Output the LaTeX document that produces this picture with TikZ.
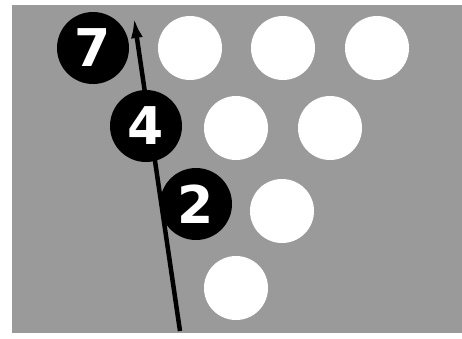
\documentclass[tikz,border=0pt]{standalone}
\usepackage{fontspec}
\setmainfont{DejaVu Sans}
\usetikzlibrary{arrows.meta}
\definecolor{bggray}{RGB}{154,154,154}
\begin{document}
\begin{tikzpicture}[x=1pt,y=-1pt,
  pin/.style={circle,fill=white,draw=none,minimum size=64pt,inner sep=0pt},
  numball/.style={circle,fill=black,draw=none,minimum size=72pt,inner sep=0pt,
    text=white,font=\fontsize{52}{52}\selectfont\bfseries},
  shot/.style={line width=4.5pt,-{Latex[length=20pt,width=12pt]}}]
\useasboundingbox (0,0) rectangle (462,338);
\fill[bggray] (12,5) rectangle (462,333);
% white pins
\node[pin] (p1) at (190,48) {};
\node[pin] (p2) at (283,48) {};
\node[pin] (p3) at (377,48) {};
\node[pin] (p4) at (236,128) {};
\node[pin] (p5) at (330,128) {};
\node[pin] (p6) at (282,211) {};
\node[pin] (p7) at (236,288) {};
% arrow (behind the numbered balls)
\coordinate (start) at (180,331);
\coordinate (tip) at (134,18);
\draw[shot] (start) -- (tip);
% numbered balls
\node[numball] (n7) at (93,48) {7};
\node[numball] (n4) at (146,126) {4};
\node[numball] (n2) at (196,204) {2};
\end{tikzpicture}
\end{document}
